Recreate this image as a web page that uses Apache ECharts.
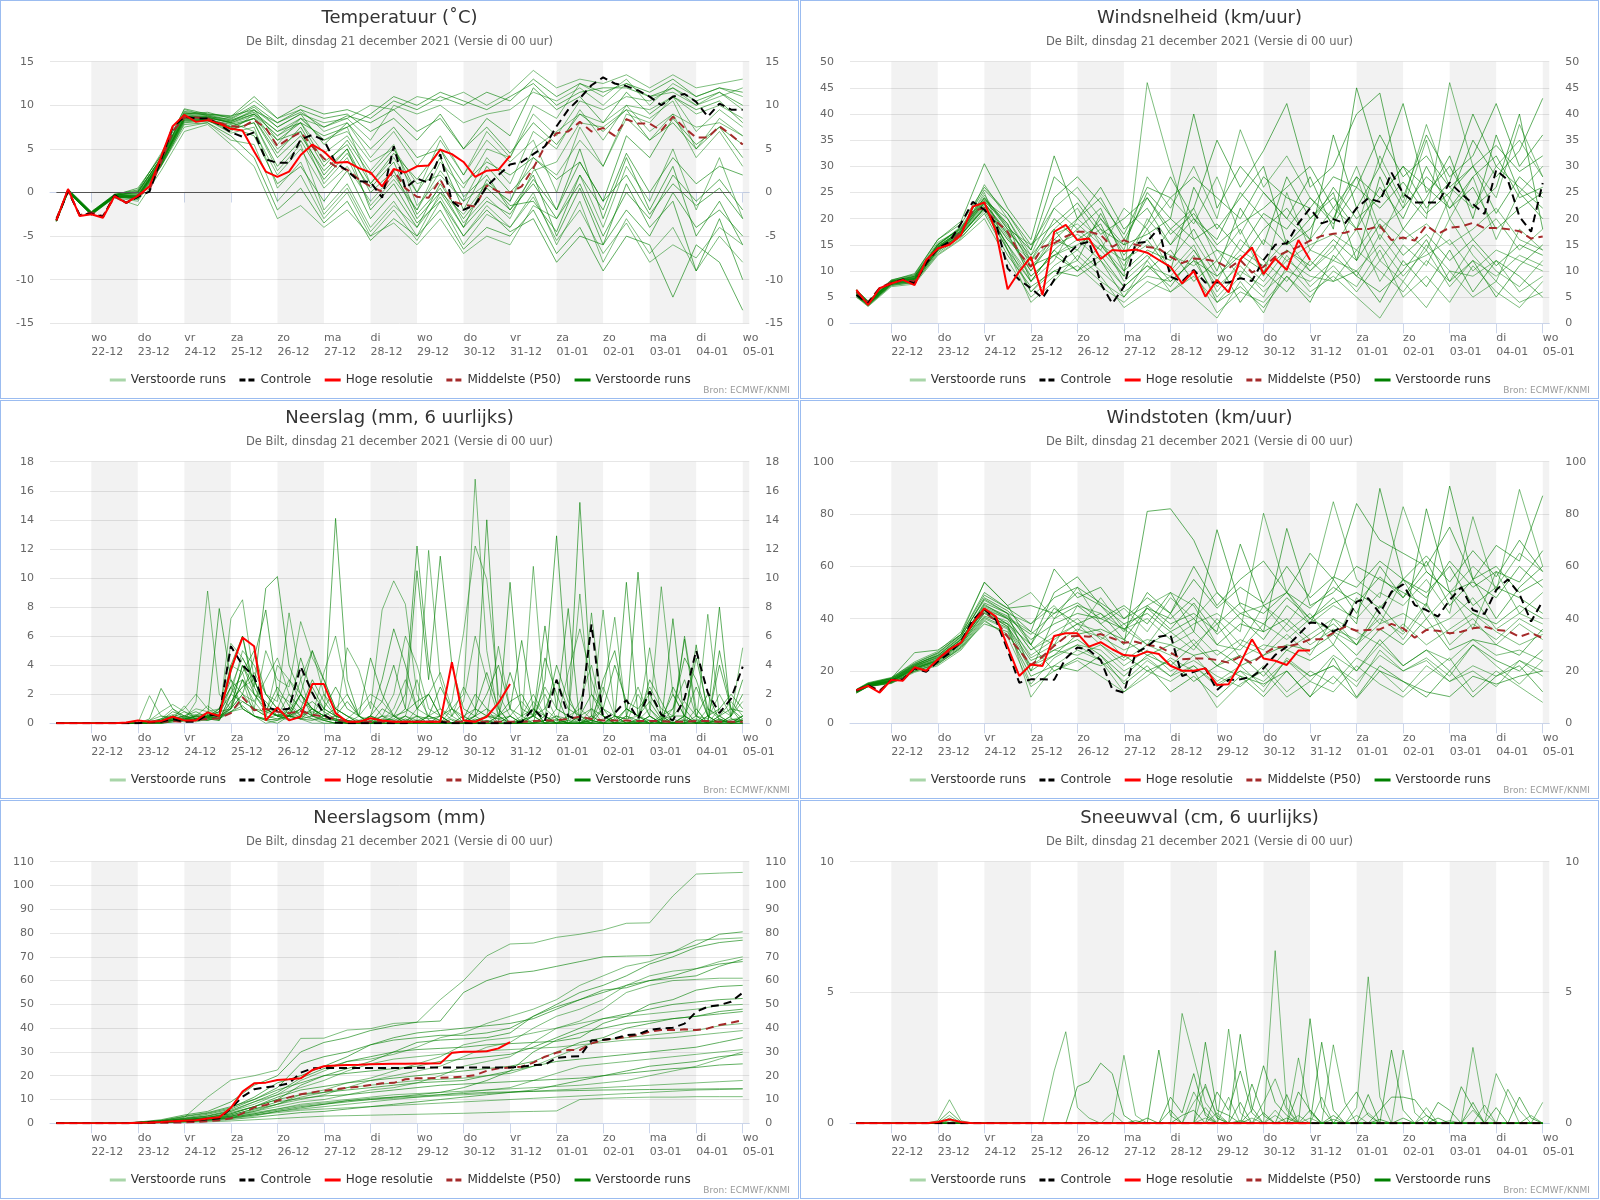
<!DOCTYPE html>
<html><head><meta charset="utf-8">
<script src="https://cdn.jsdelivr.net/npm/echarts@6/dist/echarts.min.js"></script>
<style>
html,body{margin:0;padding:0;background:#fff;}
.panel{position:absolute;box-sizing:border-box;width:799px;height:399px;border:1px solid #9bbcf0;}
.chart{position:absolute;left:0;top:0;width:797px;height:397px;}
</style></head><body>
<div class="panel" style="left:0;top:0"><div class="chart" id="c0"></div></div>
<div class="panel" style="left:800px;top:0"><div class="chart" id="c1"></div></div>
<div class="panel" style="left:0;top:400px"><div class="chart" id="c2"></div></div>
<div class="panel" style="left:800px;top:400px"><div class="chart" id="c3"></div></div>
<div class="panel" style="left:0;top:800px"><div class="chart" id="c4"></div></div>
<div class="panel" style="left:800px;top:800px"><div class="chart" id="c5"></div></div>
<script>
// ---------- time axis (hours after 21-12 00 UTC) ----------
const hours6 = [6,12,18,24,30,36,42,48,54,60,66,72,78,84,90,96,102,108,114,120,126,132,138,144,150,156,162,168,174,180,186,192,198,204,210,216,222,228,234,240,246,252,258,264,270,276,282,288,294,300,306,312,318,324,330,336,342,348,354,360];
const hours12 = [6,12,24,36,48,60,72,84,96,108,120,132,144,156,168,180,192,204,216,228,240,252,264,276,288,300,312,324,336,348,360];
const hresHours = [6,12,18,24,30,36,42,48,54,60,66,72,78,84,90,96,102,108,114,120,126,132,138,144,150,156,162,168,174,180,186,192,198,204,210,216,222,228,234,240];
const tickHours = [24,48,72,96,120,144,168,192,216,240,264,288,312,336,360];
const tickDays = ['wo','do','vr','za','zo','ma','di','wo','do','vr','za','zo','ma','di','wo'];
const tickDates = ['22-12','23-12','24-12','25-12','26-12','27-12','28-12','29-12','30-12','31-12','01-01','02-01','03-01','04-01','05-01'];
const shadedDays = [[24,48],[72,96],[120,144],[168,192],[216,240],[264,288],[312,336],[360,384]];
const subtitle = 'De Bilt, dinsdag 21 december 2021 (Versie di 00 uur)';
const source = 'Bron: ECMWF/KNMI';

// ---------- Temperatuur ----------
const tempControl = [-3.2,0.2,-2.6,-2.4,-2.8,-0.3,-1.2,-0.5,0.1,3.8,7.5,8.7,8.5,8.5,7.8,6.9,6.4,6.9,3.8,3.4,3.4,6.1,6.6,6.0,3.4,2.5,1.3,1.2,-0.6,5.3,0.5,1.6,1.1,4.4,-1.0,-2.0,-1.4,0.7,2.0,3.2,3.5,4.4,5.3,7.6,9.5,10.8,12.3,13.2,12.5,12.2,11.7,11.0,10.0,11.0,11.3,10.4,8.7,10.2,9.5,9.5];
const tempHres = [-3.2,0.4,-2.7,-2.5,-2.9,-0.4,-1.2,-0.4,0.7,4.1,7.6,8.9,8.1,8.3,7.9,7.3,7.1,4.7,2.4,1.8,2.4,4.3,5.5,4.7,3.4,3.5,2.8,2.3,0.7,2.7,2.3,3.0,3.1,4.9,4.4,3.5,1.8,2.5,2.6,4.2];
const tempP50 = [-3.0,0.2,-2.6,-2.3,-2.7,-0.5,-1.2,-0.3,0.3,3.5,7.0,8.6,8.6,8.5,8.0,7.6,7.5,8.3,7.4,5.3,6.2,6.9,5.3,3.9,3.0,2.6,1.5,0.7,0.1,2.6,0.5,-0.5,-0.6,1.5,-1.0,-1.4,-1.6,0.8,0.1,0.0,0.7,2.8,5.3,6.8,7.0,8.1,7.0,7.4,6.5,8.4,7.9,7.9,7.1,8.7,7.4,6.3,6.3,7.6,6.6,5.5];
const tempZeroLineHours = [6,354];
const tempRuns = [
[-3.1,0.3,-2.3,-0.2,0.2,4.5,9.5,8.8,8.2,9.5,7.5,9.0,8.0,8.5,10.0,9.5,11.0,10.5,11.5,10.0,11.5,14.0,12.0,13.0,12.5,13.5,12.0,13.5,12.0,12.5,13.0],
[-3.3,0.1,-2.6,-0.5,-0.8,3.0,8.0,8.2,7.5,8.5,6.0,8.0,6.5,7.5,9.0,11.0,10.0,11.5,10.5,9.5,11.0,12.5,10.0,11.5,12.0,12.0,11.0,12.0,10.5,11.5,10.0],
[-3.2,0.2,-2.4,-0.4,-0.5,3.8,8.8,8.6,8.0,7.0,2.0,5.0,0.5,3.0,-1.0,2.0,-2.0,3.5,0.5,5.0,4.0,10.0,8.5,12.5,11.0,13.0,10.0,12.5,11.0,12.0,11.0],
[-3.0,0.4,-2.2,-0.3,0.5,4.2,9.0,9.2,8.5,10.0,8.0,9.5,8.5,9.0,7.0,8.5,6.0,9.0,5.0,8.5,6.5,12.0,9.5,11.0,8.0,11.5,9.0,11.0,9.5,10.5,8.0],
[-3.2,0.0,-2.5,-0.6,-1.0,3.0,7.5,8.0,6.0,5.5,-1.0,2.0,-3.0,0.0,-5.0,-2.0,-5.5,-1.0,-6.0,-2.5,-4.0,0.0,-6.0,-1.0,-8.0,-3.0,-7.0,-4.0,-9.0,-5.0,-8.0],
[-3.1,0.2,-2.4,-0.4,-0.3,3.6,8.5,8.4,7.8,8.5,4.5,7.5,3.0,6.0,2.0,5.0,0.0,4.0,-2.0,3.0,0.0,3.0,-2.0,5.0,-3.0,4.0,-2.0,3.0,-5.0,-1.0,-6.0],
[-3.3,0.3,-2.5,-0.5,-0.6,3.2,8.2,8.3,7.0,9.0,5.5,8.5,6.0,7.0,3.5,5.0,1.0,2.0,-1.0,1.0,-1.0,5.0,7.0,9.0,8.0,10.0,9.5,11.0,7.0,9.5,7.5],
[-3.2,0.2,-2.4,-0.4,-0.4,3.4,8.6,8.5,7.5,6.5,1.0,3.0,-1.0,2.5,-3.0,0.0,-4.0,1.0,-3.0,0.5,-2.0,2.0,-5.0,0.5,-6.0,1.0,-4.0,-1.0,-9.0,-3.0,-10.0],
[-3.2,0.1,-2.3,-0.3,-0.2,3.7,8.7,8.6,8.2,9.0,6.5,8.0,4.5,6.5,2.5,5.5,-1.5,1.5,-3.5,-0.5,-3.0,2.5,3.5,8.0,7.5,9.5,8.5,10.5,5.0,8.5,6.5],
[-3.3,0.0,-2.5,-0.5,-0.7,3.1,7.8,8.0,6.5,4.0,-2.0,0.5,-3.5,-1.0,-5.5,-3.0,-5.0,-2.0,-6.5,-4.0,-5.0,-2.0,-7.0,-4.0,-9.0,-5.0,-6.0,-12.0,-6.0,-8.0,-13.5],
[-3.1,0.3,-2.3,-0.3,0.0,4.0,9.2,8.9,8.6,10.5,8.5,9.5,7.0,8.0,4.0,7.0,3.0,6.5,2.0,6.0,3.5,6.0,0.0,7.5,3.0,8.5,6.0,9.0,7.5,8.0,6.5],
[-3.2,0.2,-2.4,-0.4,-0.5,3.3,8.4,8.3,7.2,8.0,3.0,6.0,1.5,4.5,0.5,3.5,-2.5,0.5,-4.0,1.5,-1.5,-1.0,-4.5,2.0,-2.0,4.5,0.0,4.0,1.0,3.0,2.0],
[-3.2,0.2,-2.5,-0.4,-0.4,3.5,8.5,8.6,8.0,9.0,7.0,8.5,7.5,8.5,6.0,10.0,9.0,10.0,8.0,9.0,9.5,11.5,10.5,12.0,10.0,12.5,11.0,11.5,10.0,11.0,12.0],
[-3.0,0.4,-2.2,-0.2,0.3,4.3,9.6,9.0,8.8,9.5,6.0,7.0,2.0,5.0,-2.0,1.0,-3.5,-1.0,-5.0,-2.0,-4.5,-3.0,-8.0,-5.0,-6.0,-2.0,-5.0,0.0,-4.0,-2.0,-5.0],
[-3.3,0.1,-2.6,-0.6,-1.5,2.5,7.0,7.8,5.5,3.0,-3.0,-1.5,-4.0,-2.0,-5.0,-3.5,-6.0,-3.0,-7.0,-5.0,-6.0,-1.5,-3.0,2.0,-4.0,3.0,-1.0,5.0,-2.0,4.0,-3.0],
[-3.2,0.2,-2.4,-0.3,-0.1,3.8,8.9,8.7,8.4,9.8,7.5,9.0,5.5,8.0,5.0,7.5,4.0,5.0,1.0,3.5,2.0,4.0,1.5,3.5,-1.0,2.0,-2.5,1.0,-1.5,0.5,-3.0],
[-3.1,0.3,-2.3,-0.3,0.1,3.9,9.0,8.8,8.0,9.0,6.5,8.5,6.0,7.5,1.0,4.0,0.0,6.0,2.0,7.0,4.0,9.0,6.5,10.5,9.5,11.0,10.5,12.0,10.0,11.5,9.5],
[-3.2,0.2,-2.4,-0.5,-0.6,3.4,8.3,8.4,7.6,8.5,4.0,6.5,2.5,5.0,0.0,2.5,-3.0,0.0,-4.0,-1.0,-2.5,1.5,-2.0,3.5,-1.0,6.5,4.0,8.5,5.5,7.5,4.0],
[-3.2,0.1,-2.4,-0.4,-0.3,3.6,8.7,8.7,7.9,8.8,5.0,7.0,1.0,4.0,-1.5,1.5,-2.0,2.5,-1.0,4.0,1.0,7.0,5.0,9.5,6.0,10.0,7.0,9.0,4.0,7.0,3.0],
[-3.1,0.3,-2.3,-0.3,0.0,4.0,9.1,8.9,8.3,9.2,7.0,8.0,3.5,5.5,1.0,4.5,1.5,5.0,-0.5,2.0,-2.0,1.0,-3.0,1.0,-5.0,0.0,-3.0,2.0,-1.0,1.5,-2.0],
[-3.3,0.2,-2.5,-0.5,-0.5,3.3,8.3,8.2,7.3,8.0,2.5,5.5,-2.0,1.0,-4.0,-1.0,-5.0,0.0,-2.5,1.0,-1.0,4.0,2.0,6.0,3.0,9.0,8.0,11.0,9.0,10.0,8.5],
[-3.2,0.2,-2.4,-0.4,-0.4,3.5,8.6,8.5,8.1,9.4,8.0,9.2,7.5,8.8,8.0,9.5,7.0,8.5,5.0,7.5,4.5,8.0,5.5,9.0,7.0,9.5,6.0,8.0,5.0,7.5,5.5],
[-3.2,0.1,-2.5,-0.5,-0.6,3.2,8.1,8.3,6.8,7.5,0.5,3.5,-2.5,0.5,-4.5,-1.5,-4.0,-0.5,-5.0,-1.5,-4.0,-0.5,-5.5,-2.0,-7.0,-3.5,-8.0,-6.0,-7.5,-4.0,-6.0],
[-3.1,0.3,-2.3,-0.3,0.1,3.9,9.3,9.0,8.7,11.0,8.5,10.0,9.0,9.5,8.5,10.5,9.5,11.0,10.0,11.5,10.5,13.0,11.0,12.5,11.5,12.5,11.5,13.0,11.0,12.0,11.5]
];

// ---------- Windsnelheid ----------
const windControl = [5.4,3.8,6.7,7.6,8.4,7.6,11.5,14.3,15.6,19.1,23.2,21.7,19.1,10.5,8.3,6.7,4.8,8.3,12.7,15.0,15.6,7.6,3.8,7.0,15.3,15.6,18.2,8.9,8.0,10.2,7.8,7.8,7.8,8.6,8.1,12.1,15.0,15.3,19.1,22.0,19.1,19.9,19.1,22.0,23.9,23.2,28.8,24.8,23.1,23.1,23.1,26.9,24.8,22.8,20.9,29.3,27.4,20.4,17.5,26.8];
const windHres = [6.4,3.5,6.7,7.6,8.3,7.3,12.1,14.3,15.0,16.9,22.3,23.1,17.5,6.5,9.9,12.7,5.4,17.5,18.8,15.9,16.2,12.3,14.0,13.8,14.1,13.5,12.1,10.8,7.6,10.0,5.1,8.3,5.9,12.2,14.5,9.4,12.4,10.2,15.9,12.1];
const windP50 = [6.0,4.0,6.8,7.8,8.3,8.0,11.5,14.3,15.3,17.5,21.5,22.0,19.5,17.5,13.4,10.8,14.6,15.3,16.6,17.5,17.5,16.9,14.6,15.9,15.0,14.6,14.3,12.7,11.5,12.4,12.2,11.8,10.5,12.1,9.7,10.8,12.7,13.7,14.6,15.8,16.7,17.1,17.3,18.0,18.0,18.6,15.9,16.4,15.8,18.7,17.1,18.3,18.5,19.2,18.2,18.2,18.0,17.6,16.2,16.6];
const windRuns = [
[5.0,3.5,7.5,8.0,14.0,17.0,22.0,16,12,18,22,15,10,20,15,22,12,18,9,25,14,20,30,18,22,35,20,28,16,25,30],
[6.0,4.0,8.0,9.0,15.0,18.0,24.0,19,8,14,18,22,12,16,10,26,18,24,30,15,20,25,12,28,18,24,32,20,36,25,20],
[5.5,3.8,7.8,8.5,14.5,17.5,25.0,14,6,11,14,10,6,9,8,12,5,10,7,12,9,8,14,10,6,12,8,15,10,7,12],
[6.5,4.2,8.2,9.5,16.0,19.0,26.0,21,14,28,24,18,15,25,20,40,22,30,25,20,28,18,45,30,22,28,24,35,28,33,43],
[5.0,3.2,7.0,7.5,13.0,16.0,20.0,12,5,9,11,7,4,8,6,10,2,6,4,9,5,10,7,14,5,9,4,11,6,3,8],
[6.0,4.0,8.0,8.8,15.0,18.5,23.0,17,10,16,20,26,18,22,15,20,14,12,18,22,16,36,22,30,42,25,30,22,26,40,18],
[5.5,3.6,7.6,8.2,14.0,17.0,22.0,15,8,12,20,16,8,12,18,14,8,16,12,8,14,12,18,8,15,11,20,13,8,18,14],
[5.8,3.9,7.9,8.6,14.6,17.8,23.5,20,12,20,16,19,10,14,12,18,10,22,15,28,20,24,18,26,20,30,22,26,18,22,25],
[6.2,4.1,8.1,9.2,15.5,18.0,24.5,18,15,22,26,20,14,28,22,30,20,37,26,32,24,20,28,16,25,20,46,30,24,38,28],
[5.2,3.4,7.2,7.8,13.5,16.5,21.0,13,7,10,9,12,5,10,14,8,12,4,10,6,12,8,10,4,12,7,14,6,12,9,5],
[5.7,3.7,7.7,8.4,14.2,17.2,22.5,16,11,15,17,14,9,46,30,16,9,14,11,16,10,14,22,12,18,14,24,16,20,14,18],
[6.3,4.3,8.3,9.3,16.0,19.5,30.5,22,16,32,20,24,16,24,18,22,35,26,33,42,26,30,40,44,24,36,28,32,42,30,36],
[5.4,3.6,7.4,8.0,13.8,16.8,22.0,15,9,13,15,18,11,18,10,15,6,12,8,14,10,15,9,17,11,13,16,10,14,12,10],
[5.9,4.0,8.0,8.7,14.8,17.6,23.0,17.5,13,18,12,21,13,19,28,20,16,25,20,15,18,26,20,24,30,22,27,40,30,26,22],
[5.3,3.3,7.3,7.8,13.2,16.2,21.5,14,4,8,13,9,3,6,9,5,1,8,2,11,6,9,5,1,8,3,10,5,8,4,6],
[6.1,4.1,8.1,9.0,15.2,18.2,24.0,18.5,14,24,28,23,17,26,24,28,24,20,28,24,22,28,26,36,28,32,26,30,34,29,32],
[5.6,3.7,7.6,8.3,14.3,17.3,22.8,16.5,10,17,19,15,12,15,13,11,14,9,16,12,15,17,14,20,16,19,15,18,22,16,14],
[5.8,3.9,7.9,8.5,14.5,17.5,23.3,19,11,13,10,13,7,11,7,13,4,7,3,9,4,13,9,6,10,16,8,12,5,11,15],
[5.5,3.7,7.7,8.4,14.4,17.4,23.0,17,9,13,16,12,7,11,9,14,7,11,6,10,8,12,10,15,9,14,7,12,9,13,11],
[6.0,4.0,8.0,8.9,15.0,18.3,25.5,21,15,19,23,17,20,24,17,21,15,19,22,26,30,22,28,24,30,26,22,28,32,24,26],
[5.3,3.5,7.4,8.1,13.8,16.9,21.8,15,6,10,12,8,5,12,6,9,4,9,5,13,7,11,6,12,8,15,10,9,12,6,9],
[5.9,3.9,7.9,8.6,14.7,17.7,23.8,18,12,16,14,20,15,17,20,16,19,14,21,18,24,19,26,22,27,21,25,30,21,28,24],
[5.7,3.8,7.8,8.4,14.5,17.3,26.5,20,13,22,18,14,22,18,24,19,28,17,25,20,16,22,18,32,23,38,26,22,30,35,28],
[5.4,3.6,7.5,8.2,14.1,17.0,22.2,14,8,14,10,15,9,13,8,12,9,13,10,14,11,16,12,19,13,17,12,16,11,15,13]
];

// ---------- Neerslag (6-uurlijks) ----------
const precipControl = [0,0,0,0,0,0,0,0,0.1,0.1,0.3,0.1,0.1,0.6,0.5,5.3,4.0,3.2,1.1,0.9,1.0,3.9,2.1,0.6,0.05,0,0,0,0,0,0,0.1,0.1,0.1,0,0,0,0,0,0,0.1,1.0,0.2,3.0,0.5,0.2,6.8,0.3,0.7,1.6,0.3,2.2,0.6,0.2,1.7,5.0,2.1,0.7,1.7,3.9];
const precipHres = [0,0,0,0,0,0,0.05,0.2,0.1,0.15,0.45,0.2,0.2,0.75,0.5,3.7,5.9,5.3,0.2,1.1,0.2,0.45,2.7,2.7,0.7,0.1,0.1,0.35,0.2,0.1,0.1,0.1,0.1,0.1,4.2,0.2,0.1,0.45,1.4,2.7];
const precipP50 = [0,0,0,0,0,0,0,0,0.05,0.1,0.15,0.1,0.25,0.3,0.35,0.7,1.8,0.9,1.0,0.8,0.7,0.85,0.6,0.45,0.3,0.1,0.1,0.1,0.1,0.1,0.1,0.1,0.1,0.1,0.1,0.1,0.1,0.1,0.1,0.1,0.1,0.15,0.2,0.2,0.3,0.45,0.3,0.2,0.2,0.2,0.15,0.15,0.15,0.1,0.1,0.15,0.15,0.1,0.1,0.1];
const precipRuns = [
[0,0,0,0,0,0,0,0,0.1,0.3, 0.5,0.2,1.5,9.1,2.0,1.0,3.0,0.5,0,0.2, 1.0,0.3,0,0,0,0,0.2,0,0,0, 0.5,3.0,0.2,0,1.0,2.0,16.8,5.0,0.5,0, 0,0.5,2.0,0.3,0,1.5,4.0,0.5,0,0, 0.2,1.0,0,0,6.0,1.0,0,0.3,0,0.5],
[0,0,0,0,0,0,0,0,0.3,2.4, 1.0,0.5,0.2,0.5,7.9,3.0,1.0,0.5,0.2,0, 0.5,2.0,0.5,0.2,0,0,0,0,0,0.5, 2.0,12.2,4.0,1.0,0.2,0,0.5,1.0,0,0.5, 0,0,3.0,12.9,2.0,0,0.5,0,0,1.0, 0.5,0,0.3,2.0,0.5,0,0.2,4.0,1.0,0],
[0,0,0,0,0,0,0,0,1.9,0.5, 0.3,1.2,0.2,0.5,0.3,7.2,8.5,3.0,1.0,0.5, 0.2,0.5,0.3,0,0,0,0.2,0.5,0,0, 0,0.5,0,0.2,1.5,6.2,12.2,9.9,2.0,0.5, 0,0.2,0,1.0,0.5,0.3,0,2.0,7.3,0.5, 0,0.2,0,0,0.5,0,1.0,0.3,0,0.5],
[0,0,0,0,0,0,0,0,0,0.2, 0.8,0.5,0.3,0.2,0.5,1.0,4.0,2.5,9.3,10.1, 4.0,2.0,1.0,0.5,14.1,3.0,0.5,0,0.2,0, 0.3,0,0,0,0,0,0,0,0.5,1.0, 5.7,1.0,0,0,0.2,15.2,2.0,0.5,0,0, 0,0,0.5,0,0,0,0.2,0,0.5,2.0],
[0,0,0,0,0,0,0,0,0.2,0.8, 1.3,0.8,0.5,0.3,0.2,2.0,5.0,4.0,2.0,1.5, 7.6,3.0,0.5,0.2,0,5.2,3.7,1.0,7.8,9.8, 8.2,2.0,0.5,0.2,0,0.5,0,0.2,0,0, 0.3,0,0.5,0,0.2,0,1.0,0,0.5,0, 2.0,0.5,0,0.3,0,1.0,0,0,0.2,0.5],
[0,0,0,0,0,0,0,0,0,0.1, 0.4,0.2,0.3,0.6,0.5,3.5,6.0,2.0,0.8,0.5, 1.0,4.5,2.0,1.0,0.5,0.2,0,0.5,1.5,4.0, 1.0,10.5,3.0,11.5,4.0,1.0,0.5,0,0,9.7, 0.5,0,0.2,0.5,0,0,0.2,0,0.5,0.3, 10.4,1.0,0.2,0,0,0.5,2.0,0.2,0,0],
[0,0,0,0,0,0,0,0,0,0.2, 0.3,0.5,1.0,0.8,1.0,2.5,3.0,1.5,0.5,2.0, 1.5,0.5,0.8,0.3,0.2,0,0,0,0.5,0.2, 0,0.2,11.9,3.0,0.5,0,0.2,0.5,5.3,1.0, 0,10.8,1.0,0.3,0,0.5,0.2,0,0,0.2, 0,0.5,9.4,2.0,0.5,0,0,0.3,0,0.2],
[0,0,0,0,0,0,0,0,0,0.1, 0.2,0.3,0.2,0.5,0.3,1.0,2.0,4.5,7.8,2.0, 0.5,0.3,1.0,0.5,0.2,0,0,0.5,0.2,0, 0,0,0.5,0.2,0,0.2,0.5,14.0,1.0,0, 0.2,0.5,6.7,1.0,7.9,0,0.3,1.0,0,0, 0.2,0,0,7.2,0,0,0,5.0,1.0,0.3],
[0,0,0,0,0,0,0,0,0,0, 0.1,0.2,0.1,0.3,0.2,1.5,2.5,3.0,1.0,0.5, 2.0,1.0,0.5,2.0,0.5,0.2,0,0,0,0, 0.2,0.5,0,0,0.3,0,0,0.2,0,0.5, 0,1.0,0,0.5,0.3,8.9,0.5,7.8,0.5,0, 0.3,5.2,0.5,0,0.3,0,7.5,0.5,0,0.2],
[0,0,0,0,0,0,0,0,0,0.1, 0.2,0.1,0.3,0.2,0.4,0.8,1.2,0.5,0.3,0.6, 0.5,1.0,1.5,0.8,0.3,0,0,0.2,0,0, 0,0.2,0,0,0,0,0,0,0,0, 0,0,0.2,0,0,0,0,0,0.3,9.7, 0.5,0.2,0,0,0,5.4,0.5,8.0,0.3,0.2],
[0,0,0,0,0,0,0,0,0,0.3, 1.0,0.3,0.5,1.2,0.6,4.0,3.5,1.0,5.0,3.0, 2.5,7.0,4.5,3.0,1.0,2.0,0.5,0.2,0.5,2.0, 6.0,4.0,1.0,0.5,0,0,0,0,0,0, 0.5,2.0,0.5,0,0,0.2,7.6,0.5,0,0, 0,0,0,0,0,0.3,0,1.0,0.5,5.2],
[0,0,0,0,0,0,0,0,0,0.2, 0.3,0.2,0.5,0.4,0.8,1.0,3.0,2.0,1.0,0.5, 0.8,2.0,1.0,0.5,0.3,0.2,0,0,0,0, 0,0,0,0.5,0,0,0,0,0,0, 0,0,0,0.2,0,0.5,0,0,0,0, 0,0.2,0,0.5,5.8,0.5,0,0,0,0.3],
[0,0,0,0,0,0,0,0,0,0, 0.1,0.2,0.3,0.5,0.2,2.0,1.5,1.0,0.5,4.0, 3.0,1.5,1.0,0.5,0.2,0,0,0,0.5,0.5, 0.2,0,0,0,0,0,0.2,0.5,0,0, 0,0,0,0,0,0,0,0,0,0, 0,0.5,0,0,0.2,0,0,0,0,0],
[0,0,0,0,0,0,0,0,0,0.2, 0.5,0.3,0.5,0.3,1.0,3.0,2.0,1.0,0.8,2.5, 1.2,0.5,2.5,1.0,0.5,1.5,0.5,0,1.0,0.5, 0.8,1.5,2.0,0.5,1.0,0.3,2.0,1.0,0.5,1.5, 2.0,0.5,1.0,3.0,1.0,0.5,2.0,1.0,4.0,1.5, 1.0,2.0,0.5,1.0,4.5,3.0,0.5,1.0,2.0,1.0],
[0,0,0,0,0,0,0,0,0.2,0.5, 0.4,0.8,0.3,0.5,0.4,1.5,2.5,3.5,2.0,1.0, 3.0,2.0,1.0,0.5,0.3,0,0.5,1.5,0.5,0, 0.5,0.2,0.5,1.0,0.5,2.5,1.0,0.5,0.3,0.5, 1.5,0.5,2.5,1.0,0.5,1.0,0.3,2.5,0.5,0.3, 0.5,2.5,1.0,0.5,1.5,0.5,0.3,2.0,0.5,1.5],
[0,0,0,0,0,0,0,0,0,0.1, 0.3,0.2,0.2,0.4,0.3,1.2,4.0,2.0,1.5,0.5, 0.5,1.0,3.0,1.5,0.5,0.2,0,0.5,0.2,0.3, 1.0,0.5,0.3,0.5,0,0,0.5,2.0,4.0,1.0, 0.5,1.0,0.5,4.0,1.5,0.5,1.0,0.5,0.2,1.0, 0.5,1.5,0.3,0.5,0.5,4.5,1.0,0.5,1.0,0.8],
[0,0,0,0,0,0,0,0,0,0, 0.2,0.3,0.5,0.7,0.5,5.5,4.5,3.0,1.0,0.8, 0.5,3.0,5.0,2.0,1.0,0.5,0.2,0,0,0, 0,0,0,0,0.5,1.5,6.0,3.0,0.5,0, 0,0,0.5,0,0,0,0.5,0,0,0, 0,0,0.2,0,0.5,0,0,0,0,0],
[0,0,0,0,0,0,0,0,0,0.1, 0.2,0.2,0.3,0.4,0.3,0.8,1.5,1.0,0.5,0.3, 0.5,0.5,1.0,0.3,0.5,0.2,0,0,0.3,0.2, 0.5,0,0,0,0,0,0.3,0,0,0, 0.2,0.5,0,0.3,0,0,0.2,0,0,0.5, 0.2,0,0.3,0,0,0.2,0,0.5,0,0.2],
[0,0,0,0,0,0,0,0,0,0.2, 0.5,1.0,2.0,1.0,0.5,2.5,4.5,3.0,1.0,0.5, 0.3,1.0,0.5,3.5,6.0,2.0,0.5,0,0.2,1.0, 3.0,1.0,0.5,0,0,0.5,1.0,0.5,0.3,0, 0,1.5,0.5,0,3.5,6.5,3.0,0.5,0,0.5, 2.5,0.5,0,1.0,3.0,0.5,0,0.5,1.5,0.5],
[0,0,0,0,0,0,0,0,0,0.1, 0.2,0.4,0.6,0.5,0.8,2.0,3.5,5.0,2.0,1.0, 0.5,0.3,0.5,1.0,2.5,1.0,0.5,4.5,2.0,0.5, 0,0,0.5,2.5,1.0,0,0,0.5,0.5,3.5, 1.0,0.5,0,0,0,0,0,3.0,5.0,1.0, 0.5,0,0,2.5,1.0,0,0.5,0,0.5,3.0],
[0,0,0,0,0,0,0,0,0,0, 0.1,0.3,0.4,0.3,0.5,1.0,2.0,1.5,3.0,4.5, 2.0,1.0,0.5,0.3,0.2,0,0,0,0,0, 0,0,0,0,0,0,0,0,0,0, 0,0,0,0,0,0,0,0,0,0, 0,0,0,0,0,0,0,0,0,0],
[0,0,0,0,0,0,0,0,0,0.2, 0.3,0.5,0.8,0.4,0.6,4.0,6.0,2.5,1.0,0.5, 0.5,2.0,5.0,3.0,1.0,0.5,0,0.5,3.0,6.5, 4.0,1.0,2.0,0.5,0,0,1.0,3.5,1.0,0, 0,0.5,4.5,2.0,0,0,0,1.0,0.5,0, 0,3.0,1.5,0,0.5,2.5,0.5,0,0,0.5],
[0,0,0,0,0,0,0,0,0.1,0.3, 0.6,0.4,0.2,0.3,0.5,0.8,1.0,0.5,0.2,0.3, 0.5,0.8,0.3,0.2,0,0.3,1.0,2.0,1.5,0.5, 0,1.0,2.0,3.5,1.0,0.5,0,0,0.5,0, 0,0,0.2,0,0.5,0,0,0.3,0,0.2, 0,0.5,0,0,0.2,0,0.5,0,0.3,0],
[0,0,0,0,0,0,0,0,0,0, 0.2,0.2,0.3,0.5,1.0,2.5,1.0,0.5,0.3,0.2, 0.5,0.3,0.2,0.5,1.0,0.5,0,0,0,0, 0,0,0,0,0,0,0,0,0,0, 0,0,0,0,0.5,0.2,0,0,0,0, 0,0,0,0,0,0,0,0.2,0,0]
];

// ---------- Windstoten ----------
const gustControl = [12.5,14.6,12.1,16.6,16.8,21.0,19.7,23.6,26.8,31.2,39.5,43.6,39.5,28.0,15.5,16.8,16.8,16.6,24.8,29.0,28.0,24.2,13.0,11.7,26.8,29.3,33.1,33.8,18.1,19.7,21.0,12.7,16.6,16.8,17.8,21.0,26.1,29.3,33.8,38.5,38.2,35.0,37.6,46.5,47.8,42.0,50.3,53.1,45.2,43.3,40.8,47.1,52.0,43.3,41.8,51.0,55.0,49.4,38.9,46.8];
const gustHres = [12.7,14.3,11.7,16.6,16.3,21.4,20.1,24.5,28.3,30.8,38.2,43.9,40.8,29.3,18.1,22.5,21.9,33.4,34.4,34.4,29.3,31.0,28.3,26.1,25.7,27.4,26.5,22.0,20.1,20.1,21.0,14.6,14.9,22.9,32.1,24.8,23.9,22.3,27.8,27.8];
const gustP50 = [12.5,14.5,12.5,16.5,16.5,21.0,20.0,24.0,27.5,31.0,38.5,42.5,39.2,33.1,28.0,22.3,25.5,29.6,33.1,33.4,33.1,34.1,32.5,30.8,31.2,29.9,29.3,27.0,24.5,24.8,24.8,24.2,23.2,25.5,22.9,26.5,29.0,29.3,30.3,32.1,32.1,34.6,36.9,35.4,35.7,35.9,38.0,36.3,32.7,35.7,35.4,34.4,35.0,36.3,36.9,35.7,35.3,33.1,34.6,32.5];
const gustRuns = [
[12.0,14.5,16.0,21.0,24.0,31.0,44.0,40,28,35,40,32,38,30,35,28,40,30,45,35,42,30,48,38,55,40,50,36,58,42,50],
[12.5,14.8,16.5,22.0,25.0,32.0,46.0,42,20,40,45,38,30,81,82,70,50,40,32,45,38,55,42,60,48,62,45,55,40,52,60],
[11.5,14.0,15.5,20.0,23.0,29.0,40.0,36,15,25,30,28,20,25,18,22,15,20,12,25,18,22,14,28,20,25,18,30,22,15,24],
[13.0,15.5,17.5,23.0,27.0,34.0,54.0,45,30,50,56,45,35,50,42,60,45,55,62,50,65,55,84,70,65,60,75,55,68,62,87],
[12.2,14.6,16.2,21.5,24.5,31.5,43.0,38,10,22,28,24,12,18,25,20,6,15,20,10,16,12,22,15,10,18,25,12,20,14,8],
[12.8,15.0,17.0,22.5,26.0,33.0,48.0,43,35,59,48,52,40,45,38,42,35,68.5,45,50,40,48,38,89.8,55,50,60,45,52,48,42],
[12.0,14.2,15.8,20.5,23.5,30.0,42.0,39,25,30,36,33,28,32,30,35,26,32,28,38,30,36,32,40,34,46,30,38,32,40,35],
[12.4,14.7,16.4,21.8,25.5,32.0,45.0,41,32,38,42,40,45,38,50,35,74,45,35,40,32,38,30,45,35,82,50,42,38,45,40],
[11.8,14.0,15.2,19.5,22.0,28.0,39.0,34,22,28,26,30,22,28,20,24,18,14,22,12,20,15,25,20,12,22,16,20,14,24,18],
[12.6,15.2,17.2,27.0,28.0,34.0,50.0,44,45,42,50,45,38,42,35,40,30,38,35,74.5,45,50,60,55,50,45,90.7,55,60,50,55],
[12.3,14.5,16.0,21.0,24.0,31.0,43.5,40,28,33,38,35,25,45,50,45,30,28,38,32,40,35,30,38,42,36,40,48,36,42,38],
[11.6,14.1,15.5,20.0,22.5,29.0,38.0,35,18,22,20,26,15,22,12,18,10,18,15,20,10,25,10,22,16,10,20,10,18,22,12],
[12.7,15.0,17.0,22.0,26.5,33.5,47.0,42,38,45,35,48,36,40,32,38,42,35,80.3,50,38,45,40,50,45,55,42,79,50,89.4,60],
[12.1,14.3,16.1,21.2,24.2,30.5,42.5,37,24,28,32,26,18,26,22,30,22,26,18,28,24,30,20,32,22,28,20,30,24,20,28],
[12.9,15.3,17.3,23.5,27.5,35.0,53.8,45,50,40,52,38,44,35,48,40,50,42,45,38,50,84.7,55,48,82.8,58,50,60,52,65,58],
[12.2,14.4,15.9,20.8,23.8,30.2,41.0,38,30,20,25,22,26,20,24,16,22,18,10.2,20,10.2,18,9.6,20,16,12,10.2,18,15,18,20],
[12.5,14.9,16.6,22.2,25.8,32.5,44.5,40.5,35,30,45,42,36,30,42,30,38,25,30,28,34,40,35,30,38,30,36,42,35,30,34],
[11.9,14.2,15.7,20.6,23.2,29.5,40.5,36.5,20,26,34,36,32,26,30,26,28,22,26,30,28,34,26,36,30,40,28,32,30,26,36],
[12.3,14.6,16.2,21.4,24.6,31.4,43.2,38,26,32,38,30,24,30,26,32,22,30,26,34,26,40,30,42,32,45,34,40,30,38,32],
[12.6,14.9,16.8,22.4,25.9,33.2,47.5,42,30,44,38,42,32,44,36,46,34,42,38,48,40,46,50,44,55,48,62,52,58,54,66],
[11.7,14.0,15.4,19.8,22.8,28.5,39.5,33,14,20,24,18,12,20,16,22,14,20,16,24,18,22,16,26,20,24,16,22,18,24,20],
[12.4,14.7,16.4,21.6,25.2,32.2,45.5,40,34,42,46,40,36,44,40,48,38,46,42,50,44,52,46,56,48,58,50,54,48,60,52],
[12.1,14.4,16.0,21.0,24.0,30.8,42.0,37,22,26,30,24,16,24,18,26,16,22,14,24,16,26,20,30,22,28,24,32,26,28,24],
[12.8,15.1,17.1,22.8,26.8,34.0,49.0,44,38,48,52,46,40,48,42,55,44,52,46,60,48,56,52,62,55,64,54,66,56,70,58]
];

// ---------- Neerslagsom ----------
const cumControl = [0,0,0,0,0,0,0,0.2,0.4,0.5,0.8,1.0,1.1,1.7,2.1,6.3,11.2,14.3,15.1,15.7,16.8,21.3,23.1,23.3,23.3,23.3,23.3,23.3,23.3,23.3,23.3,23.4,23.4,23.5,23.5,23.5,23.5,23.5,23.5,23.5,23.8,24.5,24.7,27.5,28.0,28.2,34.8,35.1,35.7,37.1,37.4,39.3,39.9,40.2,41.9,46.9,49.0,49.7,51.1,54.9];
const cumHres = [0,0,0,0,0,0,0,0.2,0.3,0.5,0.9,1.1,1.3,2.0,2.5,6.5,13.3,16.8,17.1,18.2,18.5,18.9,22.4,24.0,24.3,24.5,24.6,24.8,24.9,25.0,25.0,25.1,25.1,25.2,29.7,30.1,30.1,30.3,31.5,34.1];
const cumP50 = [0,0,0,0,0,0,0,0,0.1,0.2,0.3,0.4,0.6,0.9,1.3,2.1,4.2,6.7,7.7,9.5,10.9,12.2,13.0,13.7,14.3,14.9,15.4,16.1,16.8,17.0,18.5,18.9,18.9,19.1,19.3,19.6,20.3,22.1,23.1,23.5,23.8,25.5,28.0,29.7,30.8,30.8,33.6,35.0,35.6,36.4,37.1,38.5,39.2,39.2,39.5,39.2,39.9,41.3,42.3,43.4];
const cumRuns = [
[0,0,0,0,0.3,1.0,2.5,11.0,18.2,20.0,22.4,35.7,35.8,39.2,39.8,42.0,42.5,52.0,60.0,70.4,75.4,75.8,78.2,79.5,81.3,84.1,84.3,95.6,104.8,105.2,105.5],
[0,0,0,0,0.5,1.5,3.5,5.0,9.0,16.0,20.0,30.0,34.0,36.0,39.0,41.0,42.5,43.0,55.0,60.0,63.0,64.0,66.0,68.0,70.0,70.3,70.5,72.0,75.0,79.5,80.5],
[0,0,0,0,0.2,0.8,2.0,3.0,5.0,8.0,12.0,18.0,22.0,26.0,27.0,29.0,32.0,36.0,38.0,42.0,45.0,48.0,52.0,58.0,62.0,66.0,68.0,72.0,77.0,77.5,78.0],
[0,0,0,0,0.3,1.0,1.5,2.5,4.0,7.0,10.0,16.0,20.0,23.0,26.0,30.0,34.0,35.0,35.5,36.0,38.0,45.0,50.0,55.0,58.0,62.0,67.0,70.0,74.0,76.0,77.0],
[0,0,0,0,0.1,0.5,1.0,2.0,3.0,5.0,8.0,10.0,12.0,15.0,18.0,20.0,22.0,24.0,28.0,32.0,34.0,40.0,45.0,48.0,52.0,58.0,62.0,64.0,65.0,68.0,70.0],
[0,0,0,0,0.4,1.2,3.0,4.5,7.0,10.0,15.0,25.0,28.0,30.0,33.0,35.0,36.0,37.0,37.0,38.0,40.0,45.0,49.0,52.0,56.0,57.0,60.0,61.0,62.0,66.0,69.0],
[0,0,0,0,0.2,0.6,1.5,2.2,3.5,6.0,8.0,12.0,14.0,17.0,19.0,22.0,25.0,28.0,33.0,35.0,36.0,38.0,40.0,43.0,48.0,55.0,58.0,60.0,60.5,61.0,61.0],
[0,0,0,0,0.3,0.9,2.0,3.2,5.5,9.0,13.0,19.0,23.0,26.0,28.0,30.0,31.0,31.5,32.0,33.0,33.5,34.0,34.5,36.0,42.0,45.0,50.0,52.0,56.0,57.5,58.0],
[0,0,0,0,0.2,0.7,1.3,2.0,3.0,5.0,7.0,9.0,10.0,12.0,14.0,15.0,17.0,20.0,24.0,26.0,28.0,34.0,40.0,42.0,44.0,45.0,46.0,47.0,48.0,49.5,50.0],
[0,0,0,0,0.1,0.4,0.8,1.5,2.5,4.0,5.5,7.0,8.0,9.0,10.0,11.0,12.0,13.0,15.0,18.0,22.0,30.0,35.0,38.0,40.0,42.0,43.0,44.0,45.0,46.0,47.0],
[0,0,0,0,0.2,0.5,1.0,1.8,3.0,5.5,8.0,11.0,13.0,15.0,16.0,17.0,18.0,18.5,19.0,20.0,21.0,24.0,28.0,32.0,35.0,36.0,37.0,38.0,39.0,41.0,42.0],
[0,0,0,0,0.3,0.8,1.6,2.5,4.5,7.0,10.0,12.0,13.0,14.0,15.0,16.0,17.0,17.5,18.0,20.0,22.0,24.0,26.0,27.0,28.0,29.0,30.0,31.0,32.0,34.0,36.0],
[0,0,0,0,0.1,0.3,0.7,1.2,2.0,3.0,5.0,6.0,7.0,8.0,9.0,10.0,11.0,12.0,13.0,14.0,15.0,18.0,21.0,24.0,25.0,26.0,27.0,28.0,29.0,30.0,31.0],
[0,0,0,0,0.2,0.6,1.2,2.0,3.5,6.0,9.0,10.5,11.5,12.0,13.0,14.0,15.0,16.0,16.5,17.0,17.5,18.0,18.5,19.0,20.0,22.0,24.0,25.0,26.0,28.0,29.0],
[0,0,0,0,0.1,0.4,0.9,1.5,2.5,4.0,6.0,7.5,8.5,9.5,10.0,10.5,11.0,11.5,12.0,12.5,13.0,13.5,14.0,14.5,15.0,15.5,16.0,16.5,17.0,17.5,18.0],
[0,0,0,0,0.2,0.5,1.0,1.5,2.2,3.5,5.0,6.5,8.0,9.5,10.5,11.0,11.5,12.0,12.5,13.0,13.2,13.4,13.6,13.8,14.0,14.1,14.2,14.3,14.4,14.5,14.5],
[0,0,0,0,0,0.2,0.4,0.6,1.0,1.5,2.0,2.5,3.0,3.2,3.4,3.6,3.8,4.0,4.2,4.5,4.8,5.0,5.2,10.0,10.5,10.8,11.0,11.0,11.2,11.2,11.2],
[0,0,0,0,0.1,0.3,0.6,1.0,1.6,2.5,3.5,4.5,5.0,6.0,7.0,8.0,9.0,10.0,11.0,12.0,13.0,14.0,16.0,18.0,20.0,21.0,22.0,23.0,23.5,24.5,25.0],
[0,0,0,0,0.2,0.7,1.8,3.0,5.0,9.0,12.0,15.0,18.0,22.0,25.0,27.0,28.0,29.0,30.0,30.5,31.0,31.5,32.0,33.0,34.0,35.0,35.5,36.0,37.0,38.0,39.0],
[0,0,0,0,0.3,0.9,2.2,3.8,6.0,10.0,14.0,17.0,20.0,21.0,22.0,23.0,24.0,26.0,27.0,28.0,29.0,32.0,36.0,40.0,44.0,46.0,48.0,50.0,51.0,52.0,52.5],
[0,0,0,0,0.1,0.4,1.0,1.6,2.8,4.5,6.0,8.0,9.0,10.0,11.0,12.0,12.5,13.0,13.5,14.0,14.5,15.0,15.5,16.0,17.0,18.0,20.0,22.0,24.0,27.0,30.0],
[0,0,0,0,0.2,0.6,1.4,2.4,4.0,7.0,11.0,14.0,15.5,17.0,18.0,19.0,20.0,21.0,22.0,23.0,24.0,26.0,30.0,34.0,36.0,40.0,42.0,44.0,45.0,47.0,48.0],
[0,0,0,0,0.1,0.3,0.8,1.3,2.2,3.5,4.5,5.5,6.0,6.5,7.0,7.5,8.0,8.5,9.0,9.5,10.0,10.5,11.0,11.5,12.0,12.5,13.0,13.5,14.0,14.2,14.5],
[0,0,0,0,0.4,1.1,2.8,4.2,6.5,11.0,17.0,20.0,24.0,28.0,33.0,36.0,38.0,39.0,40.0,41.0,42.0,44.0,48.0,52.0,55.0,58.0,60.0,62.0,65.0,67.0,68.0]
];

// ---------- Sneeuwval (6-uurlijks) ----------
const snowControl = [0,0,0,0,0,0,0,0,0,0, 0,0,0,0,0,0,0,0,0,0, 0,0,0,0,0,0,0,0,0,0, 0,0,0,0,0,0,0,0,0,0, 0,0,0,0,0,0,0,0,0,0, 0,0,0,0,0,0,0,0,0,0];
const snowHres = [0,0,0,0,0,0,0,0.05,0.15,0.05, 0,0,0,0,0,0,0,0,0,0, 0,0,0,0,0,0,0,0,0,0, 0,0,0,0,0,0,0,0,0,0];
const snowP50 = [0,0,0,0,0,0,0,0,0,0, 0,0,0,0,0,0,0,0,0,0, 0,0,0,0,0,0,0,0,0,0, 0,0,0,0,0,0,0,0,0,0, 0,0,0,0,0,0,0,0,0,0, 0,0,0,0,0,0,0,0,0,0];
const snowRuns = [
[0,0,0,0,0,0,0,0.1,0.9,0.1, 0,0,0,0,0,0,0,2.0,3.5,0.6, 0.2,0,0,0,0,0,0,0,0,0, 0,0,0,0,0,0,0.3,0,0,0, 0,0,0,0,0,0,0,0,0,0, 0,0,0,0,0,0,0,0,0,0],
[0,0,0,0,0,0,0,0.05,0.45,0.05, 0,0,0,0,0,0,0,0,0,1.4, 1.6,2.3,1.9,0.3,0,0,0,0,0,0, 0,0,0,0,0,0,0,0,0,0, 0,0,0,0,0,0.5,1.0,1.0,0.9,0.3, 0,0,0,0,0,0,0,0,0,0],
[0,0,0,0,0,0,0,0,0.2,0, 0,0,0,0,0,0,0,0,0,0, 0,0,0,2.6,0.3,0,0,0,0,0, 1.5,0.2,0,0,0,0,0,0,0,0, 0,0,0,0,0,0,0,0,0,0, 0,0,0,2.9,0.4,0,0,0,0,0],
[0,0,0,0,0,0,0,0,0,0, 0,0,0,0,0,0,0,0,0,0, 0,0,0,0,0,0,2.8,0.3,0,0, 0,0,0,0,0.5,2.2,0.8,0.3,0,0, 0,0,0,0,0,0,0,0,0,0, 0,0,0,0,0,0,0,0,0,0],
[0,0,0,0,0,0,0,0,0,0, 0,0,0,0,0,0,0,0,0,0, 0,0,0,0,0,0,0,0,4.2,2.5, 0.8,0.2,0,0,0,0,0,0,0,0, 0,0,0,0.6,5.6,1.0,0,0,0,0, 0,0,0,0,0,0,0,0,0,0],
[0,0,0,0,0,0,0,0,0,0, 0,0,0,0,0,0,0,0,0,0, 0,0,0,0,0,0,0,0,0,0, 3.1,0.5,0.3,0,0,0,0,0,0,4.0, 0.6,0,0,0,0,0,0,0,0,0, 0,0,0,0,0,0,0,0,0,0],
[0,0,0,0,0,0,0,0,0,0, 0,0,0,0,0,0,0,0,0,0, 0,0,0,0,0,0,0,0,0,0, 0,0,3.6,0.4,0,0,0,0,0,0, 0,3.0,0.8,0,0,0,0,0,0,0, 0,0,0,0,0,1.9,1.0,0,0,0],
[0,0,0,0,0,0,0,0,0,0, 0,0,0,0,0,0,0,0,0,0, 0,0,0,0,0,0,0,0,0,0, 0,0,0,3.4,0.6,0,0,0,0,0, 3.1,0.5,0,0,0,0,2.8,0.5,0,0, 0,0,0,0,0,0,0,0,0,0],
[0,0,0,0,0,0,0,0,0,0, 0,0,0,0,0,0,0,0,0,0, 0,0,0,0,0,0,0,0,0,0, 0,0,0,0,0,0,6.6,0.6,0,0, 0,0,0,0,0,0,0,2.8,0.4,0, 0,0,0,0,0,0,0,0,0,0],
[0,0,0,0,0,0,0,0,0,0, 0,0,0,0,0,0,0,0,0,0, 0,0,0,0,0,0,0,1.0,0.4,1.9, 0.3,0,0,0,0,0,0,0,1.2,0.5, 0,0,0,0,0,0,0,0,0,0, 0,0,1.4,0.6,0,0,0,1.0,0.2,0],
[0,0,0,0,0,0,0,0,0,0, 0,0,0,0,0,0,0,0,0,0, 0,0,0.4,0,0,0,0,0,0,0.8, 1.4,0.3,0,0,0,0.8,1.7,0.5,0,0, 0,0,0,0,0,0,0,0,0,0, 0,0,0,0,0,0,0,0,0,0.8],
[0,0,0,0,0,0,0,0,0,0, 0,0,0,0,0,0,0,0,0,0, 0,0,0,0,0,0.2,0,0,0,0, 0,1.2,0.5,2.0,0.4,0,0,0,0,0, 0,0,0.6,1.2,0.3,0,0,0,0,0, 0.8,0.5,0,0,0,0,0,0,0,0],
[0,0,0,0,0,0,0,0,0,0, 0,0,0,0,0,0,0,0,0,0, 0,0,0,0,0,0,0,0,0,0, 0.6,0,1.0,0,0,0,0.5,0,0.3,0, 1.0,0,0,0,0.4,0,0,0,0,0, 0,0,0,0,0.7,0,1.3,0.5,0,0],
[0,0,0,0,0,0,0,0,0,0, 0,0,0,0,0,0,0,0,0,0, 0,0,0,0,0,0,0,0,0.3,0.5, 0,0,0,0.8,0,0.4,0,1.1,0,0.5, 0,0.3,0,0,0,0,0,0.2,0,0, 0,0,0,0,0,0.6,0,0,0,0],
[0,0,0,0,0,0,0,0,0,0, 0,0,0,0,0,0,0,0,0,0, 0,0,0,0,0,0,0,0,0,0, 0,0.4,0,0,0.2,0,0,0,0,0.2, 0,0,0,0,0,0,0,0,0,0.3, 0,0,0,0.5,0,0,0,0,0.3,0],
[0,0,0,0,0,0,0,0,0.1,0, 0,0,0,0,0,0,0,0,0,0, 0,0,0,0,0.1,0,0,0,0,0, 0,0,0,0,0,0,0,0.2,0,0, 0,0,0,0,0,0.15,0,0,0,0, 0,0,0,0,0,0,0,0,0,0],
[0,0,0,0,0,0,0,0,0,0, 0,0,0,0,0,0,0,0,0,0, 0,0,0,0,0,0,0,0,0,0, 0.2,0,0,0,0,0,0,0,0,0, 0,0,0,0.3,0,0,0,0,0,0, 0,0.1,0,0,0,0,0,0,0,0],
[0,0,0,0,0,0,0,0,0,0, 0,0,0,0,0,0,0,0,0,0, 0,0,0,0,0,0,0,0,0,0, 0,0,0,0.1,0,0,0,0,0,0, 0,0.15,0,0,0,0,0,0,0,0, 0.2,0,0,0,0,0,0,0,0,0],
[0,0,0,0,0,0,0,0,0.3,0, 0,0,0,0,0,0,0,0,0,0, 0,0,0,0,0,0,0,0,0,1.2, 0.4,0,0,0,0,0,0,0,2.5,0.4, 0,0,0,0,0,0,0,0,0,0.6, 0,0,0,0,0,0,0,0,0,0],
[0,0,0,0,0,0,0,0,0,0, 0,0,0,0,0,0,0,0,0,0, 0,0,0,0,0,0,0,0.5,0,0, 0,0,0,0,1.5,0.3,0,0,0,0, 0,0,0,0,1.1,0,0,0,0,0, 0,0,0,0.8,0,0,0,0,0,0]
];

// ---------- chart builder ----------
const X_MIN = 2.7, X_MAX = 363.4;
const RUN_A = 'Verstoorde runs #1', RUN_B = 'Verstoorde runs #2';
const FONT = 'DejaVu Sans';

function pairs(hours, vals) { return vals.map((v, i) => [hours[i], v]); }
function lineSeries(name, data, ls, z) {
  return {type:'line', name, data, symbol:'none', showSymbol:false, silent:true, z,
    lineStyle: ls, itemStyle:{color: ls.color}, emphasis:{disabled:true}, animation:false};
}

function makePanel(id, cfg) {
  const chart = echarts.init(document.getElementById(id));
  const series = [];
  cfg.runs.forEach((vals, k) => {
    const grpA = k % 2 === 0;
    series.push(lineSeries(grpA ? RUN_A : RUN_B, pairs(cfg.runHours, vals),
      {color: grpA ? 'rgba(0,128,0,0.5)' : 'rgba(0,128,0,0.62)', width: 1}, 2));
  });
  if (cfg.zeroLine) {
    series.push(lineSeries('nul', cfg.zeroLine.map(h => [h, 0]), {color:'#555', width:1}, 3));
  }
  const p50 = lineSeries('Middelste (P50)', pairs(hours6, cfg.p50), {color:'#a52a2a', width:2, type:[8,5]}, 4);
  p50.markArea = {silent:true, label:{show:false}, itemStyle:{color:'rgba(0,0,0,0.05)', borderWidth:0},
    data: shadedDays.map(d => [{xAxis: d[0]}, {xAxis: Math.min(d[1], X_MAX)}])};
  series.push(p50);
  series.push(lineSeries('Controle', pairs(hours6, cfg.control), {color:'#000', width:2, type:[8,5]}, 5));
  series.push(lineSeries('Hoge resolutie', pairs(hresHours, cfg.hres), {color:'#ff0000', width:2}, 6));

  const yAx = (pos) => ({type:'value', position:pos, min:cfg.min, max:cfg.max, interval:cfg.interval,
    axisLine:{show:false}, axisTick:{show:false},
    axisLabel:{color:'#666', fontSize:11, margin:16, fontFamily:FONT},
    splitLine:{show: pos === 'left', lineStyle:{color:'#e6e6e6', width:1}}});

  chart.setOption({
    animation:false,
    textStyle:{fontFamily:FONT},
    title:[
      {text:cfg.title, left:'center', top:8, padding:0, textStyle:{fontSize:18, fontWeight:'normal', color:'#333', fontFamily:FONT}},
      {text:subtitle, left:'center', top:35, padding:0, textStyle:{fontSize:11.5, fontWeight:'normal', color:'#666', fontFamily:FONT}}
    ],
    legend:{
      left:'center', top:373, padding:0, itemWidth:16, itemHeight:14, itemGap:12, selectedMode:false,
      itemStyle:{opacity:0},
      textStyle:{color:'#333', fontSize:12, fontFamily:FONT},
      formatter: n => n.replace(/ #\d$/, ''),
      data:[
        {name:RUN_A, itemStyle:{color:'#a8d5a8', opacity:0}, lineStyle:{color:'#a8d5a8', width:3}},
        {name:'Controle', itemStyle:{opacity:0}, lineStyle:{color:'#000', width:3, type:[6,3]}},
        {name:'Hoge resolutie', itemStyle:{opacity:0}, lineStyle:{color:'#ff0000', width:3}},
        {name:'Middelste (P50)', itemStyle:{opacity:0}, lineStyle:{color:'#a52a2a', width:3, type:[6,3]}},
        {name:RUN_B, itemStyle:{color:'#008000', opacity:0}, lineStyle:{color:'#008000', width:3}}
      ]
    },
    grid:{left:49, top:60.7, width:699.3, height:261.6, outerBoundsMode:'none'},
    xAxis:{type:'value', min:X_MIN, max:X_MAX,
      axisLine:{lineStyle:{color:'#ccd6eb'}},
      axisTick:{customValues:tickHours, length:10, lineStyle:{color:'#ccd6eb'}},
      axisLabel:{customValues:tickHours, align:'left', color:'#666', fontSize:11, lineHeight:14, margin:8, fontFamily:FONT, hideOverlap:false,
        formatter: v => { const i = tickHours.indexOf(v); return i < 0 ? '' : tickDays[i] + '\n' + tickDates[i]; }},
      splitLine:{show:false}},
    yAxis:[yAx('left'), yAx('right')],
    graphic:[{type:'text', right:8, bottom:3, style:{text:source, fill:'#999', font:'9px "DejaVu Sans"'}}],
    series
  });
}

makePanel('c0', {title:'Temperatuur (˚C)', min:-15, max:15, interval:5, runs:tempRuns, runHours:hours12,
  control:tempControl, hres:tempHres, p50:tempP50, zeroLine:tempZeroLineHours});
makePanel('c1', {title:'Windsnelheid (km/uur)', min:0, max:50, interval:5, runs:windRuns, runHours:hours12,
  control:windControl, hres:windHres, p50:windP50});
makePanel('c2', {title:'Neerslag (mm, 6 uurlijks)', min:0, max:18, interval:2, runs:precipRuns, runHours:hours6,
  control:precipControl, hres:precipHres, p50:precipP50});
makePanel('c3', {title:'Windstoten (km/uur)', min:0, max:100, interval:20, runs:gustRuns, runHours:hours12,
  control:gustControl, hres:gustHres, p50:gustP50});
makePanel('c4', {title:'Neerslagsom (mm)', min:0, max:110, interval:10, runs:cumRuns, runHours:hours12,
  control:cumControl, hres:cumHres, p50:cumP50});
makePanel('c5', {title:'Sneeuwval (cm, 6 uurlijks)', min:0, max:10, interval:5, runs:snowRuns, runHours:hours6,
  control:snowControl, hres:snowHres, p50:snowP50});
</script>
</body></html>
